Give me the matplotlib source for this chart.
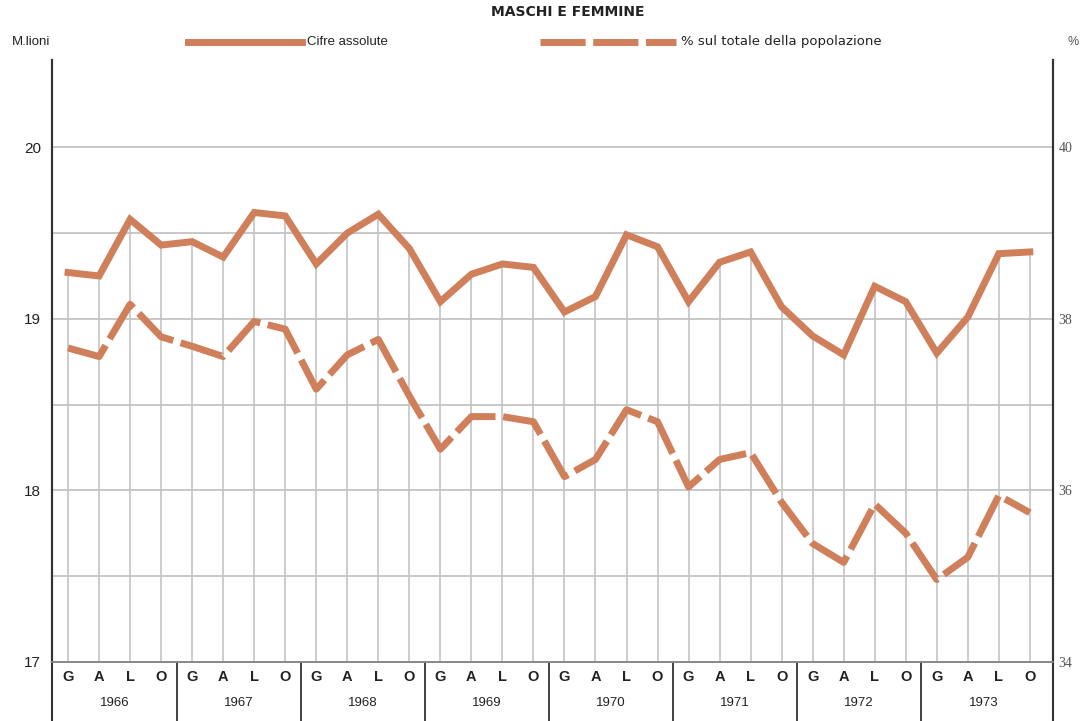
import matplotlib.pyplot as plt
from matplotlib.transforms import blended_transform_factory

# quarterly data 1966-1973 (G A L O = gennaio, aprile, luglio, ottobre)
years = ['1966', '1967', '1968', '1969', '1970', '1971', '1972', '1973']
quarters = ['G', 'A', 'L', 'O']

# cifre assolute, milioni
assolute = [19.27, 19.25, 19.58, 19.43,
            19.45, 19.36, 19.62, 19.60,
            19.32, 19.50, 19.61, 19.41,
            19.10, 19.26, 19.32, 19.30,
            19.04, 19.13, 19.49, 19.42,
            19.10, 19.33, 19.39, 19.07,
            18.90, 18.79, 19.19, 19.10,
            18.80, 19.01, 19.38, 19.39]

# % sul totale della popolazione
percento = [37.66, 37.56, 38.17, 37.79,
            37.68, 37.56, 37.97, 37.88,
            37.18, 37.58, 37.76, 37.10,
            36.48, 36.86, 36.86, 36.80,
            36.16, 36.36, 36.94, 36.80,
            36.04, 36.36, 36.44, 35.86,
            35.38, 35.16, 35.84, 35.50,
            34.96, 35.22, 35.94, 35.74]

left_ticks = [17, 18, 19, 20]
right_ticks = [34, 36, 38, 40]

col = '#cf7f5a'
grid_col = '#c4c4c4'
txt = '#222222'
dash = (0, (6.5, 1.1))
plt.rcParams['font.family'] = ['Liberation Sans', 'DejaVu Sans']

fig = plt.figure(figsize=(10.82, 7.21), dpi=100)
ax = fig.add_axes([0.048, 0.082, 0.925, 0.835])
ax2 = ax.twinx()

x = list(range(len(assolute)))
ax.set_xlim(-0.52, len(x) - 1 + 0.74)
ax.set_ylim(17, 20.51)
ax2.set_ylim(34, 34 + 2 * 3.51)

# horizontal grid
for y in [17.5, 18, 18.5, 19, 19.5, 20]:
    ax.axhline(y, color=grid_col, lw=1.3, zorder=1)
# vertical lines up to the solid curve
ax.vlines(x, 17, assolute, color=grid_col, lw=1.2, zorder=1)

ax.plot(x, assolute, color=col, lw=5, solid_joinstyle='miter', zorder=3)
ax2.plot(x, percento, color=col, lw=5, linestyle=dash, zorder=3)

for a in (ax, ax2):
    a.spines['top'].set_visible(False)
    a.spines['left'].set_color('#333333')
    a.spines['right'].set_color('#333333')
    a.spines['left'].set_linewidth(1.5)
    a.spines['right'].set_linewidth(1.5)
    a.spines['bottom'].set_color('#888888')
    a.spines['bottom'].set_linewidth(1.2)

ax.set_xticks([])
ax.set_yticks(left_ticks)
ax.set_yticklabels([str(t) for t in left_ticks], fontsize=11, color=txt)
ax.tick_params(axis='y', length=0, pad=8)
ax2.set_yticks(right_ticks)
ax2.set_yticklabels([str(t) for t in right_ticks], fontsize=10, color='#555555',
                    family='Liberation Serif')
ax2.tick_params(axis='y', length=0, pad=4)

# quarter and year labels under the axis
trans = blended_transform_factory(ax.transData, ax.transAxes)
for i, yr in enumerate(years):
    for j, q in enumerate(quarters):
        ax.text(4 * i + j, -0.025, q, transform=trans, ha='center', va='center',
                fontsize=10.5, fontweight='bold', color=txt)
    ax.text(4 * i + 1.5, -0.069, yr, transform=trans, ha='center', va='center',
            fontsize=9.5, color=txt)
    if i > 0:
        ax.plot([4 * i - 0.5, 4 * i - 0.5], [0, -0.1], transform=trans,
                color='#333333', lw=1.3, clip_on=False)
for xe in [-0.52, len(x) - 1 + 0.74]:
    ax.plot([xe, xe], [0, -0.1], transform=trans, color='#333333', lw=1.5, clip_on=False)

# title and legend row
fig.text(0.525, 0.983, 'MASCHI E FEMMINE', ha='center', va='center',
         fontsize=10, fontweight='bold', color=txt, family='Liberation Sans Narrow')
fig.text(0.011, 0.942, 'M.lioni', ha='left', va='center', fontsize=9.5, color=txt)
fig.add_artist(plt.Line2D([0.174, 0.279], [0.942, 0.942], color=col, lw=5))
fig.text(0.284, 0.942, 'Cifre assolute', ha='left', va='center', fontsize=9.5, color=txt)
fig.add_artist(plt.Line2D([0.499, 0.625], [0.942, 0.942], color=col, lw=5,
                          linestyle=dash))
fig.text(0.629, 0.942, '% sul totale della popolazione', ha='left', va='center',
         fontsize=9.5, color=txt, family='DejaVu Sans')
fig.text(0.987, 0.942, '%', ha='left', va='center', fontsize=9, color='#555555')

fig.savefig('out.png', dpi=100)
